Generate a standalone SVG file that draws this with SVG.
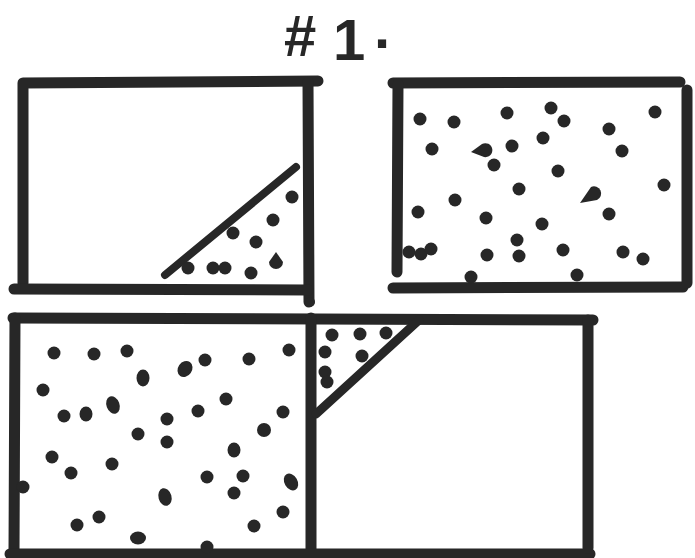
<svg xmlns="http://www.w3.org/2000/svg" width="695" height="558" viewBox="0 0 695 558">
<style>
.ln{fill:none;stroke:#272727;stroke-width:11;stroke-linecap:round;stroke-linejoin:round}
.dg{fill:none;stroke:#272727;stroke-width:8;stroke-linecap:round}
.d{fill:#272727}
.t{font-family:"Liberation Sans",Arial,sans-serif;font-weight:bold;font-size:58px;fill:#272727}
</style>
<rect width="695" height="558" fill="#ffffff"/>
<g id="title"><text class="t" x="284" y="56"><tspan>#</tspan><tspan x="333" y="60">1</tspan><tspan x="374" y="48">.</tspan></text></g>
<g id="connectors"/>
<g id="box-top-left">
<path class="ln" d="M23,283 L23,83 L318,81"/>
<path class="ln" d="M308,82 L309,302"/>
<path class="ln" d="M14,289 L308,290"/>
<path class="dg" d="M165,275 L296,167"/>
<g class="d">
<circle cx="292" cy="197" r="6.5"/><circle cx="273" cy="220" r="6.5"/><circle cx="233" cy="233" r="6.5"/>
<circle cx="256" cy="242" r="6.5"/><circle cx="188" cy="268" r="6.5"/><circle cx="213" cy="268" r="6.5"/>
<circle cx="225" cy="268" r="6.5"/><circle cx="251" cy="273" r="6.5"/>
<path d="M276,252 L283,262 A7,7 0 1 1 269,262 Z"/>
</g>
</g>
<g id="box-top-right">
<path class="ln" d="M393,83 L680,82"/>
<path class="ln" d="M398,84 L397,272"/>
<path class="ln" d="M393,288 L683,287"/>
<path class="ln" d="M687,90 L687,283"/>
<g class="d">
<circle cx="420" cy="119" r="6.5"/><circle cx="454" cy="122" r="6.5"/><circle cx="507" cy="113" r="6.5"/>
<circle cx="551" cy="108" r="6.5"/><circle cx="564" cy="121" r="6.5"/><circle cx="609" cy="129" r="6.5"/>
<circle cx="655" cy="112" r="6.5"/><circle cx="432" cy="149" r="6.5"/><circle cx="512" cy="146" r="6.5"/>
<circle cx="543" cy="138" r="6.5"/><circle cx="622" cy="151" r="6.5"/><circle cx="494" cy="165" r="6.5"/>
<circle cx="558" cy="171" r="6.5"/><circle cx="664" cy="185" r="6.5"/><circle cx="519" cy="189" r="6.5"/>
<circle cx="455" cy="200" r="6.5"/><circle cx="418" cy="212" r="6.5"/><circle cx="609" cy="214" r="6.5"/>
<circle cx="486" cy="218" r="6.5"/><circle cx="542" cy="224" r="6.5"/><circle cx="517" cy="240" r="6.5"/>
<circle cx="409" cy="252" r="6.5"/><circle cx="421" cy="254" r="6.5"/><circle cx="431" cy="249" r="6.5"/>
<circle cx="487" cy="255" r="6.5"/><circle cx="519" cy="256" r="6.5"/><circle cx="563" cy="250" r="6.5"/>
<circle cx="623" cy="252" r="6.5"/><circle cx="643" cy="259" r="6.5"/><circle cx="471" cy="277" r="6.5"/>
<circle cx="577" cy="275" r="6.5"/>
<path d="M471,152 L482,144 A7,7 0 1 1 484,157 Z"/>
<path d="M580,203 L591,187 A7,7 0 1 1 597,200 Z"/>
</g>
</g>
<g id="box-bottom-left">
<path class="ln" d="M13,318 L593,320"/>
<path class="ln" d="M15,318 L14,554"/>
<path class="ln" d="M311,318 L311,557"/>
<path class="ln" d="M10,554 L590,554"/>
<circle class="d" cx="310" cy="302" r="5"/>
<g class="d">
<circle cx="54" cy="353" r="6.5"/><circle cx="94" cy="354" r="6.5"/><circle cx="127" cy="351" r="6.5"/>
<ellipse cx="143" cy="378" rx="6.5" ry="8.5"/><ellipse cx="185" cy="369" rx="7" ry="8.5" transform="rotate(35 185 369)"/>
<circle cx="205" cy="360" r="6.5"/><circle cx="249" cy="359" r="6.5"/><circle cx="289" cy="350" r="6.5"/>
<circle cx="43" cy="390" r="6.5"/><circle cx="64" cy="416" r="6.5"/><ellipse cx="86" cy="414" rx="6.5" ry="7.5"/>
<ellipse cx="113" cy="405" rx="6.5" ry="9" transform="rotate(-20 113 405)"/><circle cx="167" cy="419" r="6.5"/>
<circle cx="198" cy="411" r="6.5"/><circle cx="226" cy="399" r="6.5"/><circle cx="283" cy="412" r="6.5"/>
<circle cx="138" cy="434" r="6.5"/><circle cx="167" cy="442" r="6.5"/><circle cx="264" cy="430" r="7"/>
<ellipse cx="234" cy="450" rx="6.5" ry="7.5"/><circle cx="52" cy="457" r="6.5"/><circle cx="71" cy="473" r="6.5"/>
<circle cx="112" cy="464" r="6.5"/><circle cx="207" cy="477" r="6.5"/><circle cx="243" cy="476" r="6.5"/>
<ellipse cx="291" cy="482" rx="6.5" ry="9" transform="rotate(-30 291 482)"/><circle cx="23" cy="487" r="6.5"/>
<ellipse cx="165" cy="497" rx="6.5" ry="9" transform="rotate(-15 165 497)"/><circle cx="234" cy="493" r="6.5"/>
<circle cx="283" cy="512" r="6.5"/><circle cx="77" cy="525" r="6.5"/><circle cx="99" cy="517" r="6.5"/>
<circle cx="254" cy="526" r="6.5"/><ellipse cx="138" cy="538" rx="8" ry="6.5"/><circle cx="207" cy="547" r="6.5"/>
</g>
</g>
<g id="box-bottom-right">
<path class="ln" d="M588,320 L588,548"/>
<path class="dg" d="M316,414 L419,320" style="stroke-width:9"/>
<g class="d">
<circle cx="332" cy="335" r="6.5"/><circle cx="360" cy="334" r="6.5"/><circle cx="386" cy="333" r="6.5"/>
<circle cx="325" cy="352" r="6.5"/><circle cx="362" cy="356" r="6.5"/><circle cx="325" cy="372" r="6.5"/>
<circle cx="327" cy="382" r="6.5"/>
</g>
</g>
</svg>
